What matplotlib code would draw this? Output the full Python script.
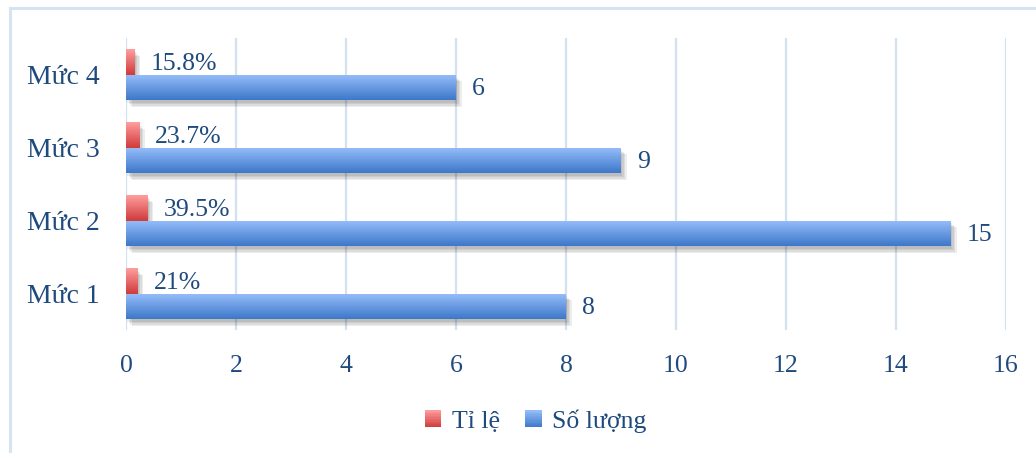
import numpy as np
import matplotlib
matplotlib.use("Agg")
import matplotlib.pyplot as plt
import matplotlib.patheffects as pe
from matplotlib.colors import LinearSegmentedColormap
from matplotlib.patches import Rectangle
from matplotlib.lines import Line2D
from matplotlib.legend_handler import HandlerBase

# Data
categories = ["Mức 1", "Mức 2", "Mức 3", "Mức 4"]
ti_le = [0.21, 0.395, 0.237, 0.158]
ti_le_labels = ["21%", "39.5%", "23.7%", "15.8%"]
so_luong = [8, 15, 9, 6]
x_ticks = [0, 2, 4, 6, 8, 10, 12, 14, 16]
series_names = ["Tỉ lệ", "Số lượng"]

plt.rcParams["font.family"] = ["Liberation Serif", "DejaVu Serif"]
TEXT = "#1F4A7E"
GRID = "#D3E0F0"

fig = plt.figure(figsize=(10.36, 4.53), dpi=100)
ax = fig.add_axes([0.1216, 0.2715, 0.8494, 0.6446])

# outer chart border (top and left edges)
fig.add_artist(Line2D([10 / 1036, 10 / 1036], [0, 1 - 8 / 453], transform=fig.transFigure,
                      color="#D6E3F3", lw=2.2))
fig.add_artist(Line2D([10 / 1036, 1], [1 - 8 / 453, 1 - 8 / 453], transform=fig.transFigure,
                      color="#D6E3F3", lw=2.2))

y = np.arange(len(categories))
h = 0.35

red_cmap = LinearSegmentedColormap.from_list("r", ["#D03A3A", "#FF9E9E"])
blue_cmap = LinearSegmentedColormap.from_list("b", ["#3D78C9", "#97BEFB"])

# soft drop shadow built from a few faint offset copies
shadow = [pe.SimplePatchShadow(offset=(o, -o - 1), shadow_rgbFace="#000000", alpha=0.07)
          for o in (1, 2, 3, 4)] + [pe.Normal()]
red_bars = ax.barh(y + h / 2, ti_le, height=h, color="#E05555", zorder=3, path_effects=shadow)
blue_bars = ax.barh(y - h / 2, so_luong, height=h, color="#5A8FDC", zorder=3, path_effects=shadow)

grad = np.linspace(0, 1, 64).reshape(-1, 1)
for bars, cmap in ((red_bars, red_cmap), (blue_bars, blue_cmap)):
    for p in bars:
        x0, y0 = p.get_x(), p.get_y()
        w, hh = p.get_width(), p.get_height()
        im = ax.imshow(grad, cmap=cmap, aspect="auto", origin="lower",
                       extent=(x0, x0 + w, y0, y0 + hh), zorder=4, interpolation="bicubic")
        im.set_clip_path(p)

for i in range(len(categories)):
    ax.annotate(ti_le_labels[i], (ti_le[i], y[i] + h / 2), xytext=(16, -2),
                textcoords="offset pixels", va="center", ha="left", fontsize=18.5, color=TEXT, zorder=5)
    ax.annotate(f"{so_luong[i]}", (so_luong[i], y[i] - h / 2), xytext=(16, -2),
                textcoords="offset pixels", va="center", ha="left", fontsize=18.5, color=TEXT, zorder=5)

ax.set_xlim(0, 16)
ax.set_ylim(-0.5, 3.5)
ax.set_xticks(x_ticks)
ax.set_xticklabels([str(t) for t in x_ticks])
ax.set_yticks(y)
ax.set_yticklabels(categories)
ax.tick_params(axis="x", length=0, pad=18, labelsize=18.5, labelcolor=TEXT)
ax.tick_params(axis="y", length=0, pad=19, labelsize=20, labelcolor=TEXT)
ax.grid(axis="x", color=GRID, lw=1.6, zorder=0)
ax.set_axisbelow(True)
for s in ax.spines.values():
    s.set_visible(False)


class GradientSquare(HandlerBase):
    """Legend key drawn as a small vertically shaded square."""

    def __init__(self, cmap):
        super().__init__()
        self.cmap = cmap

    def create_artists(self, legend, orig_handle, xdescent, ydescent, width, height, fontsize, trans):
        arts = []
        n = 12
        for k in range(n):
            arts.append(Rectangle((-xdescent, -ydescent + height * k / n), width, height / n,
                                  facecolor=self.cmap((k + 0.5) / n), edgecolor="none",
                                  transform=trans))
        return arts


handles = [Rectangle((0, 0), 1, 1), Rectangle((0, 0), 1, 1)]
leg = fig.legend(handles, series_names, loc="center", bbox_to_anchor=(0.517, 1 - 421 / 453),
                 ncol=2, frameon=False, fontsize=18.5, handlelength=0.65, handleheight=0.65,
                 handletextpad=0.4, columnspacing=1.0,
                 handler_map={handles[0]: GradientSquare(red_cmap), handles[1]: GradientSquare(blue_cmap)})
for t in leg.get_texts():
    t.set_color(TEXT)

fig.savefig("out.png", dpi=100, facecolor="white")
